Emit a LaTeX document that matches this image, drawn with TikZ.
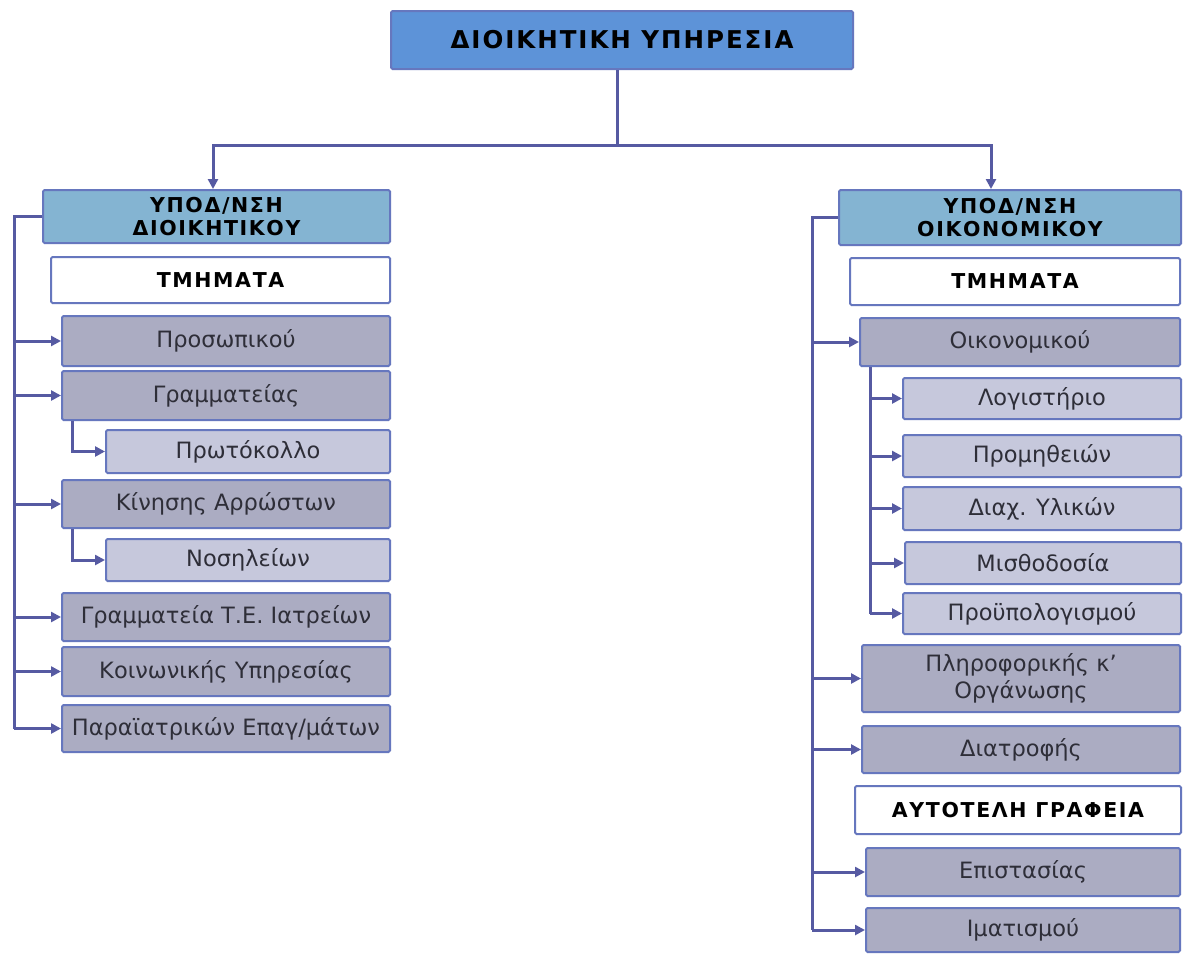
\documentclass[tikz,border=0pt]{standalone}
\usepackage{fontspec}
\setmainfont{DejaVu Sans}
\newfontfamily\hdrfont{DejaVu Sans}[LetterSpace=8]
\usetikzlibrary{arrows.meta}
\definecolor{topfill}{HTML}{5D93D8}
\definecolor{headfill}{HTML}{84B4D2}
\definecolor{deptfill}{HTML}{ABACC2}
\definecolor{subfill}{HTML}{C6C8DC}
\definecolor{edge}{HTML}{6677BE}
\definecolor{wire}{HTML}{565AA2}
\definecolor{ink}{HTML}{2E2E38}
\tikzset{
  box/.style={draw=edge, line width=2pt, rounded corners=1.5pt, inner sep=0pt, align=center},
  topbox/.style={box, fill=topfill, font=\hdrfont\bfseries\fontsize{24.5}{27}\selectfont},
  headbox/.style={box, fill=headfill, font=\hdrfont\bfseries\fontsize{20.5}{23}\selectfont},
  labelbox/.style={box, fill=white, font=\hdrfont\bfseries\fontsize{20.5}{23}\selectfont},
  deptbox/.style={box, fill=deptfill, text=ink, font=\fontsize{22.5}{27}\selectfont},
  subbox/.style={box, fill=subfill, text=ink, font=\fontsize{22.5}{27}\selectfont},
  wireline/.style={draw=wire, line width=3pt},
  arr/.style={wireline, -{Triangle[length=10pt,width=10pt]}},
}
\begin{document}
\begin{tikzpicture}[x=1pt,y=-1pt]
\useasboundingbox (0,0) rectangle (1183,956);
\fill[white] (0,0) rectangle (1183,956);

% top office
\node[topbox, minimum width=462pt, minimum height=58pt] (top) at (622,40) {ΔΙΟΙΚΗΤΙΚΗ ΥΠΗΡΕΣΙΑ};

% administrative directorate
\node[headbox, minimum width=347pt, minimum height=53pt] (lh) at (216.5,216.5) {ΥΠΟΔ/ΝΣΗ\\ΔΙΟΙΚΗΤΙΚΟΥ};
\node[labelbox, minimum width=339pt, minimum height=46pt] (lt) at (220.5,280) {ΤΜΗΜΑΤΑ};
\node[deptbox, minimum width=328pt, minimum height=50pt] (p1) at (226,341) {Προσωπικού};
\node[deptbox, minimum width=328pt, minimum height=49pt] (p2) at (226,395.5) {Γραμματείας};
\node[subbox, minimum width=284pt, minimum height=43pt] (p2a) at (248,451.5) {Πρωτόκολλο};
\node[deptbox, minimum width=328pt, minimum height=48pt] (p3) at (226,504) {Κίνησης Αρρώστων};
\node[subbox, minimum width=284pt, minimum height=42pt] (p3a) at (248,560) {Νοσηλείων};
\node[deptbox, minimum width=328pt, minimum height=48pt] (p4) at (226,617) {Γραμματεία Τ.Ε. Ιατρείων};
\node[deptbox, minimum width=328pt, minimum height=49pt] (p5) at (226,671.5) {Κοινωνικής Υπηρεσίας};
\node[deptbox, minimum width=328pt, minimum height=47pt] (p6) at (226,728.5) {Παραϊατρικών Επαγ/μάτων};

% financial directorate
\node[headbox, minimum width=342pt, minimum height=55pt] (rh) at (1010,217.5) {ΥΠΟΔ/ΝΣΗ\\ΟΙΚΟΝΟΜΙΚΟΥ};
\node[labelbox, minimum width=330pt, minimum height=47pt] (rt) at (1015,281.5) {ΤΜΗΜΑΤΑ};
\node[deptbox, minimum width=320pt, minimum height=48pt] (o1) at (1020,342) {Οικονομικού};
\node[subbox, minimum width=278pt, minimum height=41pt] (o1a) at (1042,398.5) {Λογιστήριο};
\node[subbox, minimum width=278pt, minimum height=42pt] (o1b) at (1042,456) {Προμηθειών};
\node[subbox, minimum width=278pt, minimum height=43pt] (o1c) at (1042,508.5) {Διαχ. Υλικών};
\node[subbox, minimum width=276pt, minimum height=42pt] (o1d) at (1043,563) {Μισθοδοσία};
\node[subbox, minimum width=278pt, minimum height=41pt] (o1e) at (1042,613.5) {Προϋπολογισμού};
\node[deptbox, minimum width=318pt, minimum height=67pt] (o2) at (1021,678.5) {Πληροφορικής κ'\\Οργάνωσης};
\node[deptbox, minimum width=318pt, minimum height=47pt] (o3) at (1021,749.5) {Διατροφής};
\node[labelbox, minimum width=326pt, minimum height=48pt] (ra) at (1018,810) {ΑΥΤΟΤΕΛΗ ΓΡΑΦΕΙΑ};
\node[deptbox, minimum width=314pt, minimum height=48pt] (o4) at (1023,872) {Επιστασίας};
\node[deptbox, minimum width=314pt, minimum height=44pt] (o5) at (1023,930) {Ιματισμού};

% spine positions
\coordinate (j) at (617,145);
\coordinate (lsp) at (14,0);
\coordinate (lsub) at (72,0);
\coordinate (rsp) at (812,0);
\coordinate (rsub) at (870,0);
\coordinate (lin) at (213,0);
\coordinate (rin) at (991,0);

% top branching
\draw[wireline] (top.south -| j) -- (j);
\draw[arr] (j) -| (lh.north -| lin);
\draw[arr] (j) -| (rh.north -| rin);

% left spine and branches
\draw[wireline] (lh.west) -- (lh.west -| lsp) -- (p6.west -| lsp);
\foreach \n in {p1,p2,p3,p4,p5,p6} \draw[arr] (\n.west -| lsp) -- (\n.west);
\draw[arr] (p2.south -| lsub) |- (p2a.west);
\draw[arr] (p3.south -| lsub) |- (p3a.west);

% right spine and branches
\draw[wireline] (rh.west) -- (rh.west -| rsp) -- (o5.west -| rsp);
\foreach \n in {o1,o2,o3,o4,o5} \draw[arr] (\n.west -| rsp) -- (\n.west);
\draw[wireline] (o1.south -| rsub) -- (o1e.west -| rsub);
\foreach \n in {o1a,o1b,o1c,o1d,o1e} \draw[arr] (\n.west -| rsub) -- (\n.west);
\end{tikzpicture}
\end{document}
